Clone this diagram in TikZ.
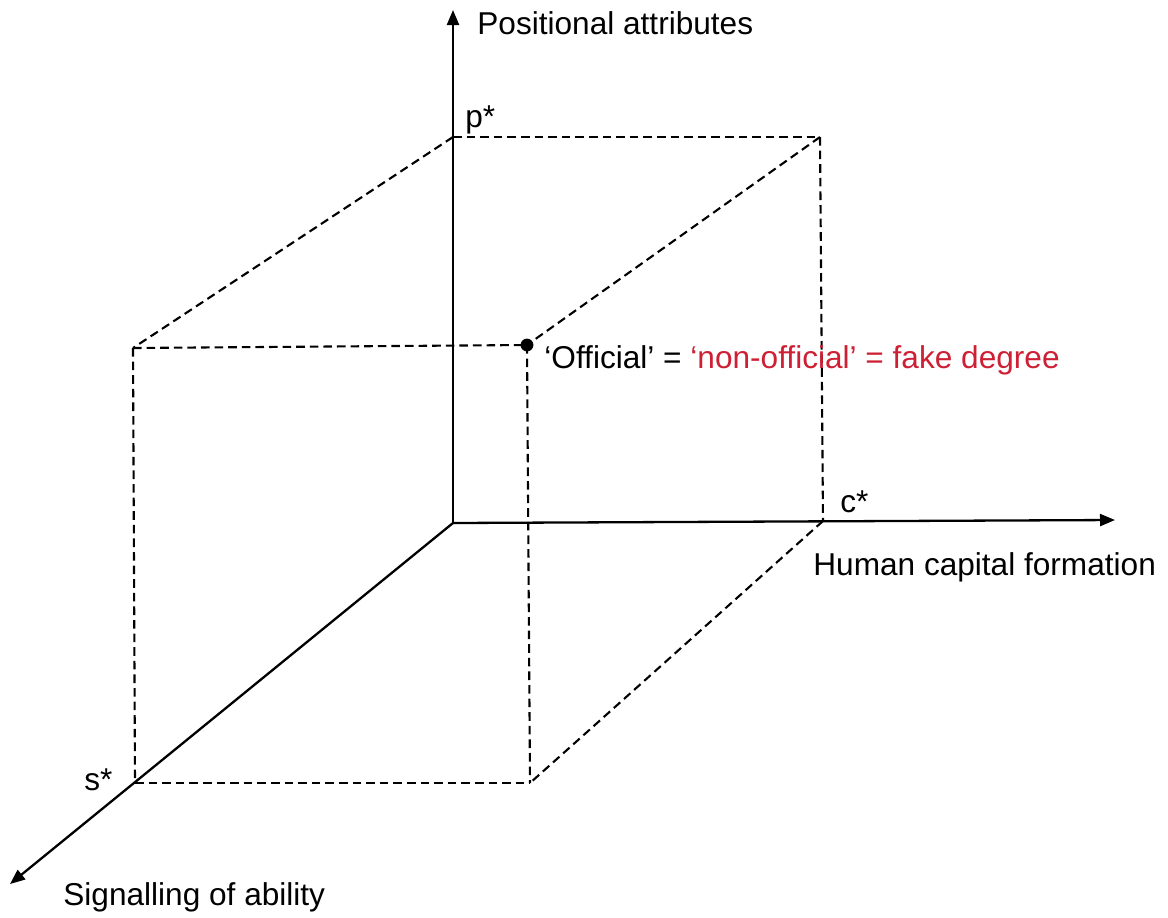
\documentclass[tikz,border=0pt]{standalone}
\usepackage{fontspec}
\setmainfont{Liberation Sans}
\usetikzlibrary{arrows.meta,positioning}
\definecolor{fakered}{RGB}{205,32,52}

\begin{document}
\begin{tikzpicture}[
  x=0.5pt, y=-0.5pt,
  font=\fontsize{15.8}{19}\selectfont,
  axis/.style={line width=1.15pt, -{Triangle[length=7.5pt,width=6pt]}},
  guide/.style={line width=1.05pt, dash pattern=on 4.3pt off 2.5pt},
  lbl/.style={inner sep=0pt, anchor=base west}
]
\useasboundingbox (0,0) rectangle (1168,917);

% corners of the box
\coordinate (o)  at (453,523);
\coordinate (p)  at (453,137);
\coordinate (pc) at (820,137);
\coordinate (c)  at (823,521);
\coordinate (ps) at (133,348);
\coordinate (d)  at (527,345);
\coordinate (s)  at (135,783);
\coordinate (sc) at (530,783);

% axis ends
\coordinate (pend) at (453,10);
\coordinate (cend) at (1115,520);
\coordinate (send) at (10,884);

% axes
\draw[axis] (o) -- (pend);
\draw[axis] (o) -- (cend);
\draw[axis] (o) -- (send);

% dashed box
\draw[guide] (p) -- (pc);
\draw[guide] (pc) -- (c);
\draw[guide] (p) -- (ps);
\draw[guide] (pc) -- (d);
\draw[guide] (ps) -- (d);
\draw[guide] (ps) -- (s);
\draw[guide] (d) -- (sc);
\draw[guide] (s) -- (sc);
\draw[guide] (c) -- (sc);

\fill (d) circle (3.2pt);

% labels
\node[lbl] (plab) at (477,34)  {Positional attributes};
\node[lbl] (pstar) at (465,127) {p*};
\node[lbl] (cstar) at (840,512) {c*};
\node[lbl] (clab) at (813,575) {Human capital formation};
\node[lbl] (sstar) at (84,790)  {s*};
\node[lbl] (slab) at (63,905)  {Signalling of ability};
\node[lbl] (fake) at (544,368)
  {‘Official’ = \textcolor{fakered}{‘non-official’ = fake degree}};
\end{tikzpicture}
\end{document}
